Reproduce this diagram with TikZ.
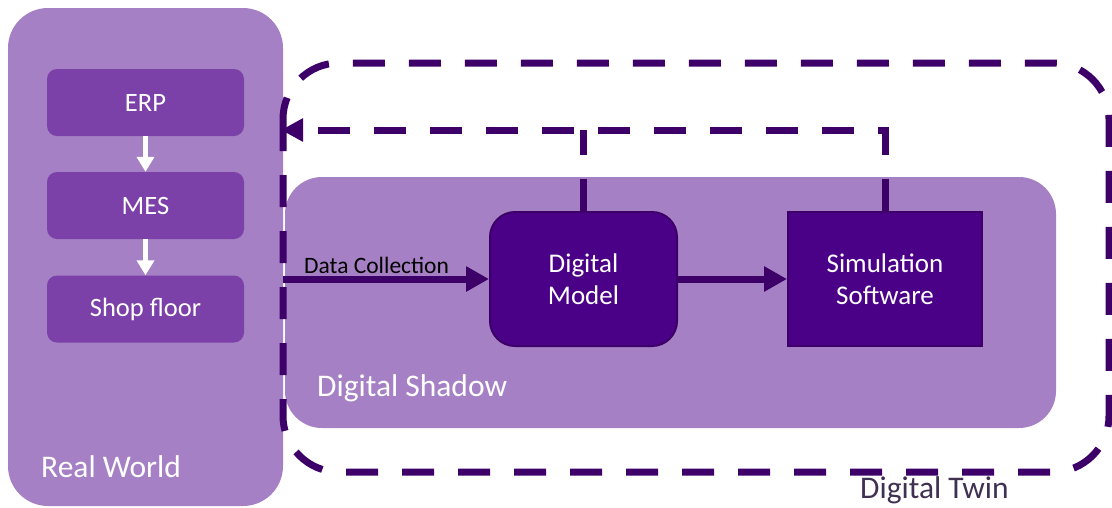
\documentclass[tikz,border=0pt]{standalone}
\usepackage{fontspec}
\setmainfont{Carlito}
\usetikzlibrary{arrows.meta}

\definecolor{lightpurple}{HTML}{A680C4}
\definecolor{midpurple}{HTML}{7B41A8}
\definecolor{deeppurple}{HTML}{4B0088}
\definecolor{linepurple}{HTML}{3D0068}
\definecolor{twintext}{HTML}{403152}

\tikzset{
  region/.style={fill=lightpurple, draw=none},
  layerbox/.style={fill=midpurple, draw=none, rounded corners=10pt,
    minimum width=197pt, minimum height=67pt, text=white,
    font=\fontsize{26.5}{32}\selectfont},
  twinbox/.style={fill=deeppurple, draw=linepurple, line width=2pt,
    minimum width=187pt, minimum height=134pt, text=white, align=center,
    font=\fontsize{27}{32}\selectfont},
  flowarrow/.style={draw=linepurple, line width=7pt,
    -{Triangle[length=23pt,width=24pt]}},
  feedback/.style={draw=linepurple, line width=7pt,
    dash pattern=on 32pt off 24pt},
  whitearrow/.style={draw=white, line width=5pt,
    -{Triangle[length=15pt,width=17pt]}},
  regionlabel/.style={anchor=west, text=white, inner sep=0pt,
    font=\fontsize{31.5}{38}\selectfont},
}

\begin{document}
\begin{tikzpicture}[x=1pt, y=-1pt]
  \useasboundingbox (0,0) rectangle (1112,507);

  % real world region with its layer stack
  \fill[region, rounded corners=40pt] (8,8) rectangle (283,506);
  \node[layerbox] (erp)  at (145.5,102.5) {ERP};
  \node[layerbox] (mes)  at (145.5,205.5) {MES};
  \node[layerbox] (shop) at (145.5,309)   {Shop floor};
  \draw[whitearrow] (erp) -- (mes);
  \draw[whitearrow] (mes) -- (shop);
  \node[regionlabel] (rwlabel) at (41,467) {Real World};

  % digital shadow region
  \fill[region, rounded corners=37pt] (285,177) rectangle (1056,428);
  \node[regionlabel] (dslabel) at (317,388) {Digital Shadow};

  % model and simulation blocks
  \node[twinbox, rounded corners=25pt] (dm) at (583.5,279) {Digital\\Model};
  \node[twinbox, minimum width=194pt] (ss) at (885,279) {Simulation\\Software};

  % data flow
  \coordinate (src) at (283,279);
  \draw[flowarrow] (src) -- (dm.west);
  \node[anchor=south west, inner sep=0pt, font=\fontsize{23.5}{28}\selectfont]
    (dclabel) at (304,274) {Data Collection};
  \draw[flowarrow] (dm.east) -- (ss.west);

  % feedback to the real world
  \coordinate (fb) at (281,130);
  \draw[feedback, -{Triangle[length=22pt,width=22pt]}] (ss.north) |- (fb);
  \draw[feedback] (dm.north) -- (dm.north |- fb);

  % digital twin boundary
  \draw[feedback, rounded corners=56pt] (283,63) rectangle (1109,472);
  \node[anchor=west, inner sep=0pt, text=twintext, font=\fontsize{31.5}{38}\selectfont]
    (dtlabel) at (860,490) {Digital Twin};
\end{tikzpicture}
\end{document}
